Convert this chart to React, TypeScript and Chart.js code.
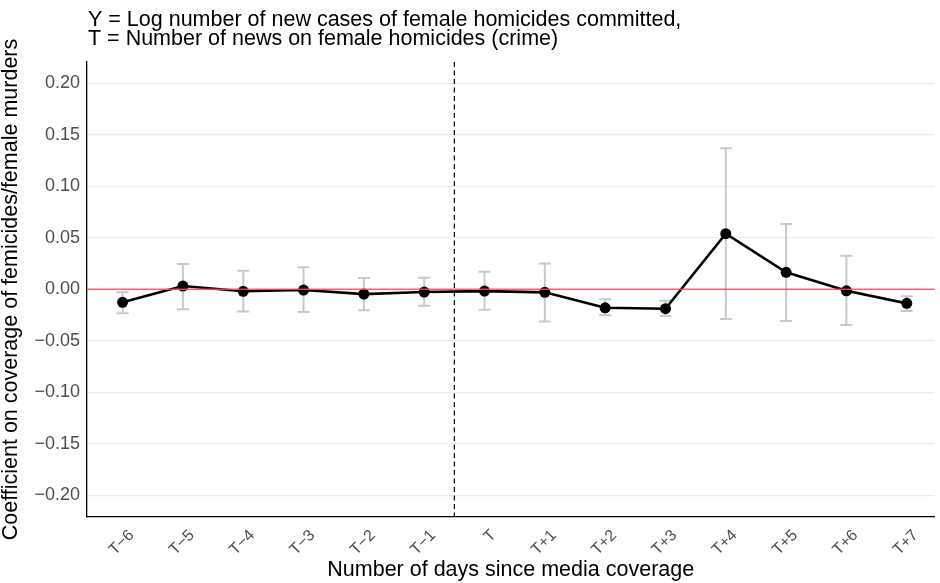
import { useEffect, useRef } from "react";
import { Chart, registerables } from "chart.js";

Chart.register(...registerables);

const categories = ["T−6", "T−5", "T−4", "T−3", "T−2", "T−1", "T", "T+1", "T+2", "T+3", "T+4", "T+5", "T+6", "T+7"];
const estimates = [-0.0126, 0.0032, -0.0019, -0.0007, -0.0046, -0.0026, -0.0017, -0.0029, -0.0179, -0.0188, 0.054, 0.0165, -0.0014, -0.0136];
const lower = [-0.0233, -0.0194, -0.0214, -0.022, -0.0204, -0.0159, -0.0198, -0.0311, -0.0252, -0.0259, -0.0288, -0.0308, -0.0347, -0.0211];
const upper = [-0.0029, 0.0246, 0.0181, 0.0214, 0.011, 0.0113, 0.0171, 0.0252, -0.0097, -0.0111, 0.1369, 0.0634, 0.0326, -0.0068];
const yTicks = [-0.2, -0.15, -0.1, -0.05, 0, 0.05, 0.1, 0.15, 0.2];
const titleLines = [
  "Y = Log number of new cases of female homicides committed,",
  "T = Number of news on female homicides (crime)",
];
const xTitle = "Number of days since media coverage";
const yTitle = "Coefficient on coverage of femicides/female murders";
const eventPosition = 5.5;
const referenceValue = 0;

const FONT = "'Liberation Sans', Arial, Helvetica, sans-serif";

const fmt = (v: number) => v.toFixed(2).replace("-", "−");

export default function App() {
  const ref = useRef<HTMLCanvasElement | null>(null);

  useEffect(() => {
    const canvas = ref.current;
    if (!canvas) return;

    const errorBars = {
      id: "errorBars",
      beforeDatasetsDraw(chart: any) {
        const { ctx, scales } = chart;
        const x = scales.x;
        const y = scales.y;
        ctx.save();
        ctx.strokeStyle = "#c9c9c9";
        ctx.lineWidth = 2;
        categories.forEach((_, i) => {
          const px = x.getPixelForValue(i);
          const lo = y.getPixelForValue(lower[i]);
          const hi = y.getPixelForValue(upper[i]);
          ctx.beginPath();
          ctx.moveTo(px, lo);
          ctx.lineTo(px, hi);
          ctx.moveTo(px - 6, lo);
          ctx.lineTo(px + 6, lo);
          ctx.moveTo(px - 6, hi);
          ctx.lineTo(px + 6, hi);
          ctx.stroke();
        });
        const ex = x.getPixelForValue(eventPosition);
        ctx.strokeStyle = "#000";
        ctx.lineWidth = 1.2;
        ctx.setLineDash([5, 3.5]);
        ctx.beginPath();
        ctx.moveTo(ex, chart.chartArea.top);
        ctx.lineTo(ex, chart.chartArea.bottom);
        ctx.stroke();
        ctx.restore();
      },
      afterDatasetsDraw(chart: any) {
        const { ctx, scales, chartArea } = chart;
        const py = scales.y.getPixelForValue(referenceValue);
        ctx.save();
        ctx.strokeStyle = "rgba(240, 80, 80, 0.85)";
        ctx.lineWidth = 1.5;
        ctx.beginPath();
        ctx.moveTo(chartArea.left, py);
        ctx.lineTo(chartArea.right, py);
        ctx.stroke();
        ctx.restore();
      },
      afterDraw(chart: any) {
        const { ctx, chartArea } = chart;
        ctx.save();
        ctx.fillStyle = "#000";
        ctx.font = `21.5px ${FONT}`;
        ctx.textAlign = "left";
        ctx.textBaseline = "alphabetic";
        titleLines.forEach((t, i) => {
          ctx.fillText(t, chartArea.left + 1, 25.5 + i * 19.5);
        });
        ctx.restore();
      },
    };

    const chart = new Chart(canvas, {
      type: "line",
      data: {
        datasets: [
          {
            data: estimates.map((v, i) => ({ x: i, y: v })),
            borderColor: "#000",
            borderWidth: 2.6,
            pointRadius: 5.5,
            pointBackgroundColor: "#000",
            pointBorderColor: "#000",
            pointBorderWidth: 0,
            tension: 0,
          },
        ],
      },
      options: {
        animation: false,
        responsive: true,
        maintainAspectRatio: false,
        layout: { padding: { top: 62, right: 0, bottom: 0, left: 0 } },
        plugins: {
          legend: { display: false },
          tooltip: { enabled: false },
          title: { display: false },
        },
        scales: {
          x: {
            type: "linear",
            min: -0.59,
            max: 13.46,
            afterBuildTicks: (s: any) => {
              s.ticks = categories.map((_, i) => ({ value: i }));
            },
            afterFit: (s: any) => {
              s.height = 66;
            },
            grid: { display: false, drawTicks: false },
            border: { display: true, color: "#000", width: 1.3 },
            ticks: {
              autoSkip: false,
              minRotation: 45,
              maxRotation: 45,
              padding: 9,
              labelOffset: 9,
              color: "#4d4d4d",
              font: { family: FONT, size: 16 },
              callback: (_v: any, i: number) => categories[i],
            },
            title: {
              display: true,
              text: xTitle,
              color: "#000",
              font: { family: FONT, size: 21.5, lineHeight: 1.2 },
              padding: { top: 0, bottom: 0 },
            },
          },
          y: {
            type: "linear",
            min: -0.221,
            max: 0.2207,
            afterBuildTicks: (s: any) => {
              s.ticks = yTicks.map((v) => ({ value: v }));
            },
            afterFit: (s: any) => {
              s.width = 87;
            },
            grid: { color: "#ebebeb", lineWidth: 1.2, drawTicks: false },
            border: { display: true, color: "#000", width: 1.3 },
            ticks: {
              padding: 7,
              color: "#4d4d4d",
              font: { family: FONT, size: 18 },
              callback: (v: any) => fmt(Number(v)),
            },
            title: {
              display: true,
              text: yTitle,
              color: "#000",
              font: { family: FONT, size: 21.5, lineHeight: 1.0 },
              padding: { top: 0, bottom: 0 },
            },
          },
        },
      },
      plugins: [errorBars],
    });

    return () => chart.destroy();
  }, []);

  return (
    <div style={{ position: "fixed", left: 0, top: 0, width: 940, height: 583, background: "#fff" }}>
      <canvas ref={ref} />
    </div>
  );
}
